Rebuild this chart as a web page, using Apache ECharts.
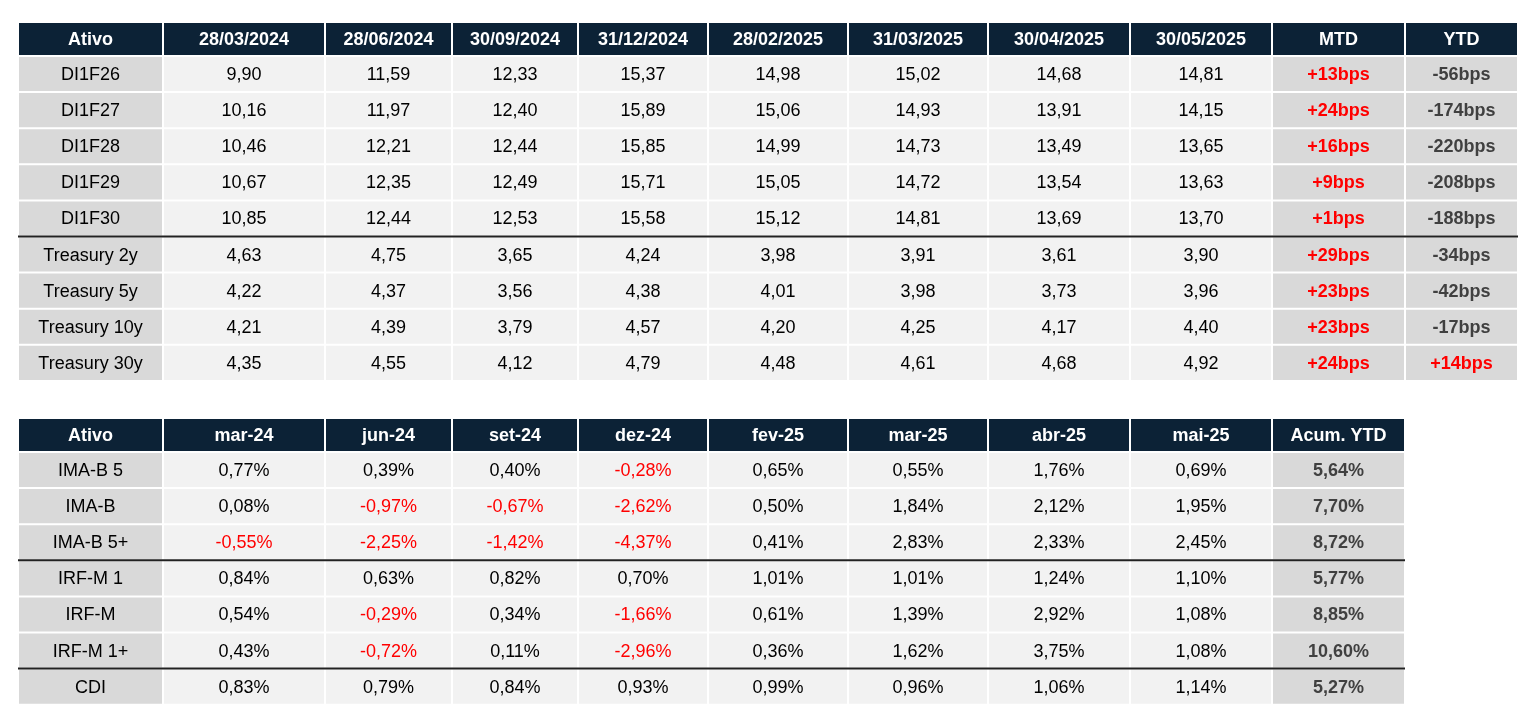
<!DOCTYPE html>
<html><head><meta charset="utf-8">
<script src="https://cdn.jsdelivr.net/npm/echarts@6/dist/echarts.min.js"></script>
<style>html,body{margin:0;background:#fff}#c{width:1530px;height:724px}</style>
</head><body><div id="c"></div>
<script>
// table 1: yields
var head1 = ['Ativo', '28/03/2024', '28/06/2024', '30/09/2024', '31/12/2024', '28/02/2025', '31/03/2025', '30/04/2025', '30/05/2025', 'MTD', 'YTD'];
var assets1 = ['DI1F26', 'DI1F27', 'DI1F28', 'DI1F29', 'DI1F30', 'Treasury 2y', 'Treasury 5y', 'Treasury 10y', 'Treasury 30y'];
var rates1 = [
  ['9,90', '11,59', '12,33', '15,37', '14,98', '15,02', '14,68', '14,81'],
  ['10,16', '11,97', '12,40', '15,89', '15,06', '14,93', '13,91', '14,15'],
  ['10,46', '12,21', '12,44', '15,85', '14,99', '14,73', '13,49', '13,65'],
  ['10,67', '12,35', '12,49', '15,71', '15,05', '14,72', '13,54', '13,63'],
  ['10,85', '12,44', '12,53', '15,58', '15,12', '14,81', '13,69', '13,70'],
  ['4,63', '4,75', '3,65', '4,24', '3,98', '3,91', '3,61', '3,90'],
  ['4,22', '4,37', '3,56', '4,38', '4,01', '3,98', '3,73', '3,96'],
  ['4,21', '4,39', '3,79', '4,57', '4,20', '4,25', '4,17', '4,40'],
  ['4,35', '4,55', '4,12', '4,79', '4,48', '4,61', '4,68', '4,92']
];
var mtd1 = ['+13bps', '+24bps', '+16bps', '+9bps', '+1bps', '+29bps', '+23bps', '+23bps', '+24bps'];
var ytd1 = ['-56bps', '-174bps', '-220bps', '-208bps', '-188bps', '-34bps', '-42bps', '-17bps', '+14bps'];
// table 2: index returns
var head2 = ['Ativo', 'mar-24', 'jun-24', 'set-24', 'dez-24', 'fev-25', 'mar-25', 'abr-25', 'mai-25', 'Acum. YTD'];
var assets2 = ['IMA-B 5', 'IMA-B', 'IMA-B 5+', 'IRF-M 1', 'IRF-M', 'IRF-M 1+', 'CDI'];
var rets2 = [
  ['0,77%', '0,39%', '0,40%', '-0,28%', '0,65%', '0,55%', '1,76%', '0,69%'],
  ['0,08%', '-0,97%', '-0,67%', '-2,62%', '0,50%', '1,84%', '2,12%', '1,95%'],
  ['-0,55%', '-2,25%', '-1,42%', '-4,37%', '0,41%', '2,83%', '2,33%', '2,45%'],
  ['0,84%', '0,63%', '0,82%', '0,70%', '1,01%', '1,01%', '1,24%', '1,10%'],
  ['0,54%', '-0,29%', '0,34%', '-1,66%', '0,61%', '1,39%', '2,92%', '1,08%'],
  ['0,43%', '-0,72%', '0,11%', '-2,96%', '0,36%', '1,62%', '3,75%', '1,08%'],
  ['0,83%', '0,79%', '0,84%', '0,93%', '0,99%', '0,96%', '1,06%', '1,14%']
];
var acum2 = ['5,64%', '7,70%', '8,72%', '5,77%', '8,85%', '10,60%', '5,27%'];

// layout (pixels)
var colEdges = [18, 163, 325, 452, 578, 708, 848, 988, 1130, 1272, 1405, 1518];
var t1Top = 22, t2Top = 418, headH = 34, rowH = 36.1;
var dividers1 = [5], dividers2 = [3, 6];

var cells = [], lines = [];
function addTable(top, head, rows, sepAfter) {
  head.forEach(function (h, c) { cells.push([c, top, headH, h, 'head']); });
  rows.forEach(function (r, i) {
    var y = top + headH + i * rowH;
    r.forEach(function (v, c) {
      var kind = c === 0 ? 'label' : (c >= 9 ? 'summary' : 'data');
      var red = (kind === 'data' && v.charAt(0) === '-') || (kind === 'summary' && v.charAt(0) === '+');
      cells.push([c, y, rowH, v, kind, red ? 1 : 0]);
    });
  });
  sepAfter.forEach(function (i) {
    lines.push([top + headH + i * rowH, colEdges[head.length]]);
  });
}
addTable(t1Top, head1, assets1.map(function (a, i) { return [a].concat(rates1[i], [mtd1[i], ytd1[i]]); }), dividers1);
addTable(t2Top, head2, assets2.map(function (a, i) { return [a].concat(rets2[i], [acum2[i]]); }), dividers2);

var fills = { head: '#0c2236', label: '#d9d9d9', data: '#f2f2f2', summary: '#d9d9d9' };
var chart = echarts.init(document.getElementById('c'));
chart.setOption({
  animation: false,
  grid: { left: 0, right: 0, top: 0, bottom: 0 },
  xAxis: { type: 'value', min: 0, max: 1530, show: false },
  yAxis: { type: 'value', min: 0, max: 724, inverse: true, show: false },
  series: [{
    type: 'custom',
    data: cells,
    renderItem: function (params, api) {
      var d = cells[params.dataIndex];
      var p0 = api.coord([colEdges[d[0]], d[1]]);
      var p1 = api.coord([colEdges[d[0] + 1], d[1] + d[2]]);
      var kind = d[4];
      var bold = kind === 'head' || kind === 'summary';
      var color = kind === 'head' ? '#fff' : (d[5] ? '#ff0000' : (kind === 'summary' ? '#404040' : '#000'));
      return {
        type: 'group',
        children: [{
          type: 'rect',
          shape: { x: p0[0] + 1, y: p0[1] + 1, width: p1[0] - p0[0] - 2, height: p1[1] - p0[1] - 2 },
          style: { fill: fills[kind] }
        }, {
          type: 'text',
          style: {
            x: (p0[0] + p1[0]) / 2, y: (p0[1] + p1[1]) / 2 + 1,
            text: d[3], align: 'center', verticalAlign: 'middle',
            font: (bold ? 'bold ' : '') + '18px "Liberation Sans", Arial, sans-serif',
            fill: color
          }
        }]
      };
    }
  }, {
    type: 'custom',
    data: lines,
    renderItem: function (params, api) {
      var l = lines[params.dataIndex];
      var a = api.coord([colEdges[0], l[0]]), b = api.coord([l[1], l[0]]);
      return { type: 'line', shape: { x1: a[0], y1: a[1], x2: b[0], y2: b[1] }, style: { stroke: '#222', lineWidth: 2 } };
    }
  }]
});
</script></body></html>
